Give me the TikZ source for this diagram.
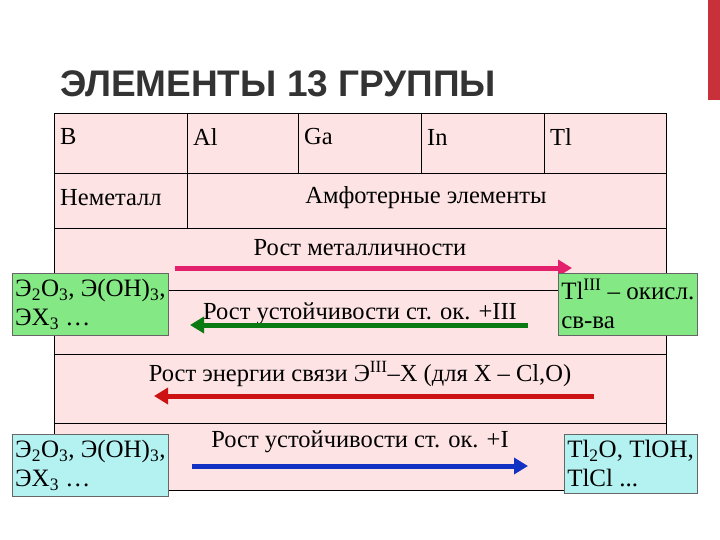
\documentclass[tikz,border=0pt]{standalone}
\usepackage{fontspec}
\setmainfont{Liberation Serif}
\newfontfamily\titlefont{Liberation Sans}
\usetikzlibrary{arrows.meta}
\definecolor{pinkbg}{HTML}{FDE3E3}
\definecolor{gbox}{HTML}{84E884}
\definecolor{cbox}{HTML}{B4F2F2}
\definecolor{apink}{HTML}{E2206C}
\definecolor{agreen}{HTML}{0A7A12}
\definecolor{ared}{HTML}{CC1212}
\definecolor{ablue}{HTML}{1232C4}
\definecolor{barred}{HTML}{C8303A}
\newcommand{\sbs}[1]{\textsubscript{#1}}
\newcommand{\sps}[1]{\textsuperscript{#1}}
\tikzset{
 txt/.style={font=\fontsize{24.5}{27}\selectfont, inner sep=0pt},
 sidebox/.style={draw=black!60, line width=0.5pt, font=\fontsize{25}{29}\selectfont, align=left, inner xsep=3pt, inner ysep=6pt, anchor=north west},
 fat/.style={line width=5pt, -{Triangle[length=14pt,width=16pt]}}
}
\begin{document}
\begin{tikzpicture}[x=1pt,y=-1pt]
\useasboundingbox (0,0) rectangle (720,540);
\fill[white] (0,0) rectangle (720,540);
\fill[barred] (708,0) rectangle (720,100);
\node[anchor=west, font=\titlefont\bfseries\fontsize{37}{40}\selectfont, text=black!80, inner sep=0pt] (title) at (60,84) {ЭЛЕМЕНТЫ 13 ГРУППЫ};
% table
\fill[pinkbg] (54,114) rectangle (666,490);
\draw[line width=1pt] (54,114) rectangle (666,490);
\foreach \y in {173,228,290,354,423} \draw[line width=0.8pt] (54,\y) -- (666,\y);
\foreach \x in {187,298,421,544} \draw[line width=0.8pt] (\x,114) -- (\x,173);
\draw[line width=0.8pt] (187,173) -- (187,228);
\node[txt, anchor=west] (b) at (60,137) {B};
\node[txt, anchor=west] (al) at (193,137) {Al};
\node[txt, anchor=west] (ga) at (304,137) {Ga};
\node[txt, anchor=west] (in) at (427,137) {In};
\node[txt, anchor=west] (tl) at (550,137) {Tl};
\node[txt, anchor=west] (nm) at (60,198) {Неметалл};
\node[txt] (amf) at (426,198) {Амфотерные элементы};
\node[txt] (t1) at (360,248) {Рост металличности};
\coordinate (p1) at (175,268); \coordinate (p2) at (572,268);
\draw[fat, apink] (p1) -- (p2);
\node[sidebox, fill=gbox] (g1) at (12,273) {Э\sbs{2}O\sbs{3}, Э(OH)\sbs{3},\\ЭX\sbs{3} \dots};
\node[sidebox, fill=gbox] (g2) at (558,273) {Tl\sps{III} – окисл.\\св-ва};
\node[txt] (t2) at (360,314) {Рост устойчивости ст. ок. +III};
\coordinate (q1) at (528,325); \coordinate (q2) at (190,325);
\draw[fat, agreen] (q1) -- (q2);
\node[txt] (t3) at (360,374) {Рост энергии связи Э\sps{III}–X (для X – Cl,O)};
\coordinate (r1) at (594,396); \coordinate (r2) at (154,396);
\draw[fat, ared] (r1) -- (r2);
\node[sidebox, fill=cbox] (c1) at (12,434) {Э\sbs{2}O\sbs{3}, Э(OH)\sbs{3},\\ЭX\sbs{3} \dots};
\node[sidebox, fill=cbox] (c2) at (564,434) {Tl\sbs{2}O, TlOH,\\TlCl ...};
\node[txt] (t4) at (360,442) {Рост устойчивости ст. ок. +I};
\coordinate (s1) at (192,466); \coordinate (s2) at (528,466);
\draw[fat, ablue] (s1) -- (s2);
\end{tikzpicture}
\end{document}
